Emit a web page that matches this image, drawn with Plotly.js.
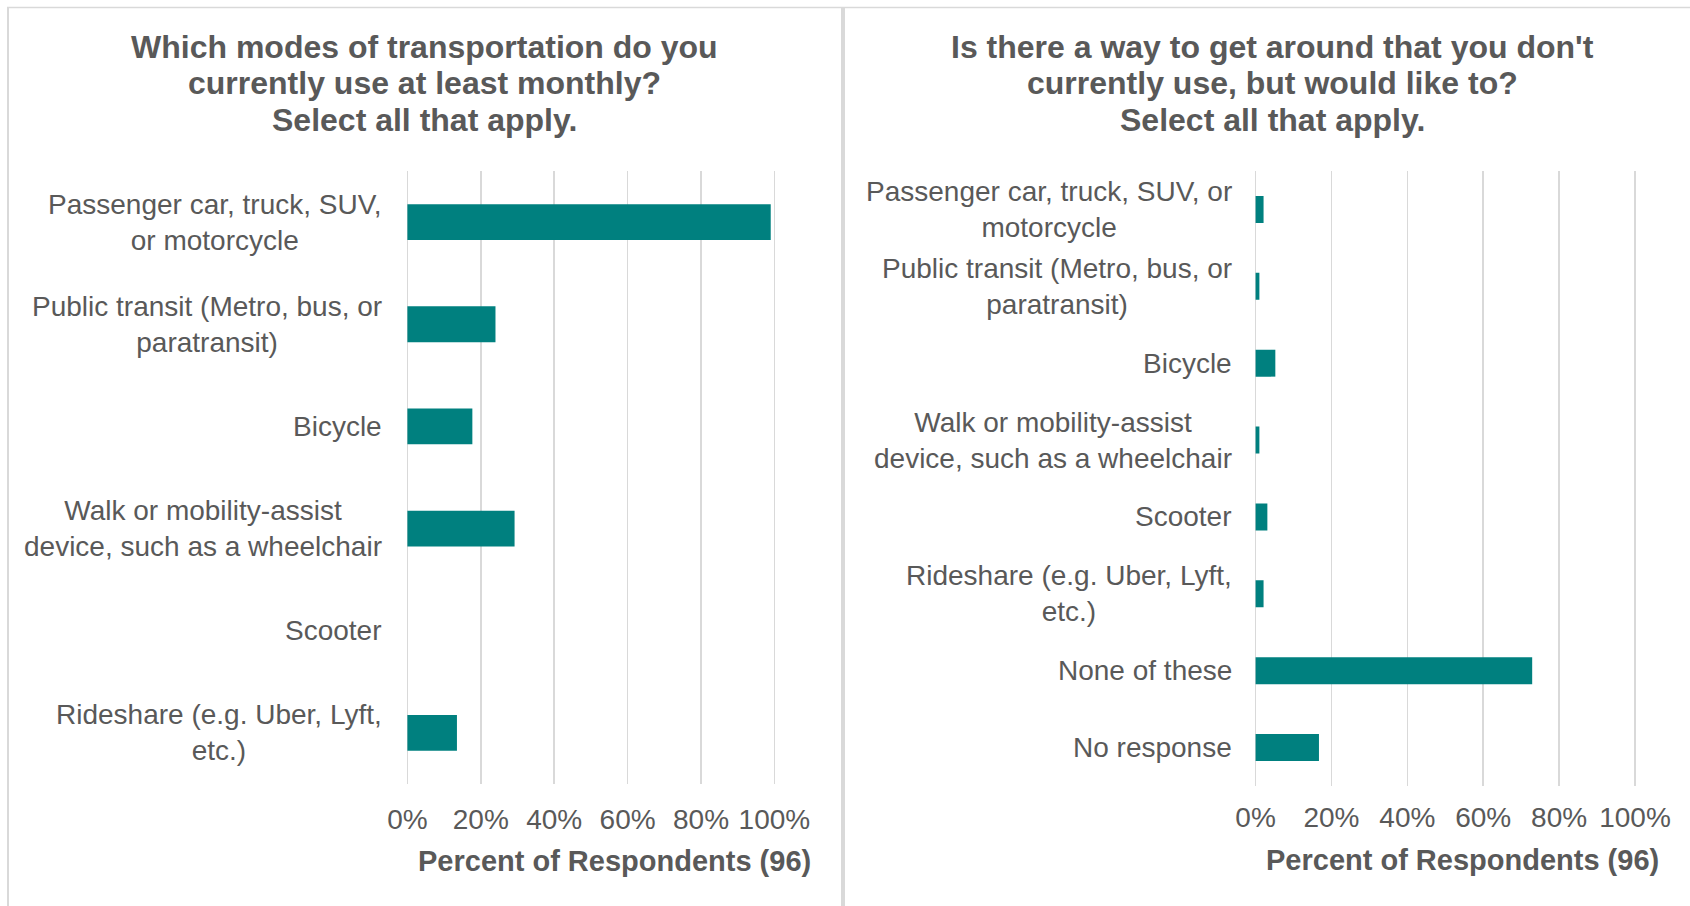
<!DOCTYPE html>
<html><head><meta charset="utf-8">
<script src="https://cdn.plot.ly/plotly-3.0.1.min.js"></script>
<style>html,body{margin:0;padding:0;background:#fff}#chart{width:1690px;height:906px}</style>
</head><body><div id="chart"></div>
<script>
const leftCategories = ['Passenger car, truck, SUV, or motorcycle','Public transit (Metro, bus, or paratransit)','Bicycle','Walk or mobility-assist device, such as a wheelchair','Scooter','Rideshare (e.g. Uber, Lyft, etc.)'];
const leftLabels = ['Passenger car, truck, SUV,<br>or motorcycle','Public transit (Metro, bus, or<br>paratransit)','Bicycle','Walk or mobility-assist<br>device, such as a wheelchair','Scooter','Rideshare (e.g. Uber, Lyft,<br>etc.)'];
const leftValues = [99.0, 24.0, 17.7, 29.2, 0, 13.5];

const rightCategories = ['Passenger car, truck, SUV, or motorcycle','Public transit (Metro, bus, or paratransit)','Bicycle','Walk or mobility-assist device, such as a wheelchair','Scooter','Rideshare (e.g. Uber, Lyft, etc.)','None of these','No response'];
const rightLabels = ['Passenger car, truck, SUV, or<br>motorcycle','Public transit (Metro, bus, or<br>paratransit)','Bicycle','Walk or mobility-assist<br>device, such as a wheelchair','Scooter','Rideshare (e.g. Uber, Lyft,<br>etc.)','None of these','No response'];
const rightValues = [2.1, 1.0, 5.2, 1.0, 3.1, 2.1, 72.9, 16.7];

const xTickValues = [0, 20, 40, 60, 80, 100];
const xTickLabels = ['0%', '20%', '40%', '60%', '80%', '100%'];
const leftTitleLines = ['Which modes of transportation do you', 'currently use at least monthly?', 'Select all that apply.'];
const rightTitleLines = ["Is there a way to get around that you don't", 'currently use, but would like to?', 'Select all that apply.'];
const axisTitle = 'Percent of Respondents (96)';

const W = 1690, H = 906;
const px = v => v / W;
const py = v => 1 - v / H;
const FONT = 'Liberation Sans, Arial, Helvetica, sans-serif';
const TXT = '#595959';
const BAR = '#00807f';
const GRID = '#d9d9d9';

const traces = [
  {type: 'bar', orientation: 'h', x: leftValues, y: leftCategories, xaxis: 'x', yaxis: 'y', width: 0.35,
   marker: {color: BAR, line: {width: 0}}, hoverinfo: 'x+y'},
  {type: 'bar', orientation: 'h', x: rightValues, y: rightCategories, xaxis: 'x2', yaxis: 'y2', width: 0.35,
   marker: {color: BAR, line: {width: 0}}, hoverinfo: 'x+y'}
];

// pixel positions of 0% and 100%; range padded slightly so edge gridlines are drawn
const PAD = 0.6;
function xAxis(p0, p100, anchor, standoff) {
  const k = (p100 - p0) / 100;
  return {domain: [px(p0 - PAD * k), px(p100 + PAD * k)], anchor: anchor, range: [-PAD, 100 + PAD],
    tickvals: xTickValues, ticktext: xTickLabels,
    showgrid: true, gridcolor: GRID, gridwidth: 1.5, zeroline: true, zerolinecolor: GRID, zerolinewidth: 1.5,
    showline: false, ticks: '',
    ticklabelstandoff: standoff, tickfont: {family: FONT, size: 28, color: TXT}, fixedrange: true};
}
function yAxis(top, bottom, anchor, cats) {
  return {domain: [py(bottom), py(top)], anchor: anchor, type: 'category', categoryorder: 'array', categoryarray: cats,
    autorange: 'reversed', showticklabels: false, showgrid: false, zeroline: false, showline: false, ticks: '', fixedrange: true};
}

const annotations = [];
leftCategories.forEach((c, i) => annotations.push({xref: 'paper', yref: 'y', x: px(384), y: c, xanchor: 'right', yanchor: 'middle',
  align: 'center', showarrow: false, text: leftLabels[i], font: {family: FONT, size: 28, color: TXT}}));
rightCategories.forEach((c, i) => annotations.push({xref: 'paper', yref: 'y2', x: px(1233.5), y: c, xanchor: 'right', yanchor: 'middle',
  align: 'center', showarrow: false, text: rightLabels[i], font: {family: FONT, size: 28, color: TXT}}));
const titleLineY = [47, 83.5, 120];
leftTitleLines.forEach((t, i) => annotations.push({xref: 'paper', yref: 'paper', x: px(424.5), y: py(titleLineY[i]),
  xanchor: 'center', yanchor: 'middle', showarrow: false, text: t, font: {family: FONT, size: 32, color: TXT, weight: 700}}));
rightTitleLines.forEach((t, i) => annotations.push({xref: 'paper', yref: 'paper', x: px(1272), y: py(titleLineY[i]),
  xanchor: 'center', yanchor: 'middle', showarrow: false, text: t, font: {family: FONT, size: 32, color: TXT, weight: 700}}));
annotations.push({xref: 'paper', yref: 'paper', x: px(614.5), y: py(861), xanchor: 'center', yanchor: 'middle',
  showarrow: false, text: axisTitle, font: {family: FONT, size: 29, color: TXT, weight: 700}});
annotations.push({xref: 'paper', yref: 'paper', x: px(1462), y: py(860), xanchor: 'center', yanchor: 'middle',
  showarrow: false, text: axisTitle, font: {family: FONT, size: 29, color: TXT, weight: 700}});

const shapes = [
  {type: 'line', xref: 'paper', yref: 'paper', x0: px(8), x1: px(8), y0: py(7), y1: py(920), line: {color: GRID, width: 2}},
  {type: 'line', xref: 'paper', yref: 'paper', x0: px(7), x1: px(1700), y0: py(7.5), y1: py(7.5), line: {color: GRID, width: 1.5}},
  {type: 'line', xref: 'paper', yref: 'paper', x0: px(843), x1: px(843), y0: py(7), y1: py(920), line: {color: GRID, width: 4}}
];

const layout = {
  width: W, height: H, margin: {l: 0, r: 0, t: 0, b: 0}, paper_bgcolor: '#ffffff', plot_bgcolor: 'rgba(0,0,0,0)',
  showlegend: false,
  font: {family: FONT, color: TXT},
  xaxis: xAxis(407.4, 774.4, 'y', 16),
  yaxis: yAxis(171, 784, 'x', leftCategories),
  xaxis2: xAxis(1255.6, 1635, 'y2', 12),
  yaxis2: yAxis(171, 786, 'x2', rightCategories),
  annotations: annotations, shapes: shapes
};

Plotly.newPlot('chart', traces, layout, {displayModeBar: false, staticPlot: true});
</script></body></html>
